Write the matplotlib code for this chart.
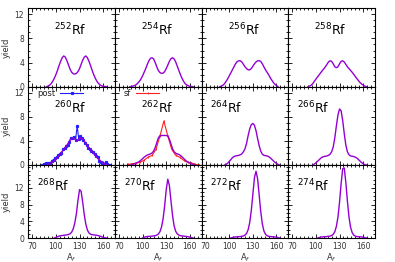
import numpy as np
import matplotlib
matplotlib.use("Agg")
import matplotlib.pyplot as plt
from matplotlib.ticker import MultipleLocator

# ---------------- data ----------------
nuclei = ["252", "254", "256", "258", "260", "262", "264", "266", "268", "270", "272", "274"]

A_252 = list(range(88, 165, 2))
y_252 = [0.0, 0.1, 0.25, 0.5, 0.9, 1.4, 2.0, 2.7, 3.5, 4.2, 4.8, 5.1, 4.9, 4.3, 3.6, 2.9, 2.4, 2.15,
         2.1, 2.2, 2.5, 3.0, 3.7, 4.4, 4.9, 5.1, 4.8, 4.2, 3.5, 2.7, 2.0, 1.4, 0.9, 0.55, 0.3, 0.15,
         0.07, 0.03, 0.0]

A_254 = list(range(84, 165, 2))
y_254 = [0.0, 0.05, 0.1, 0.2, 0.35, 0.6, 0.9, 1.3, 1.8, 2.4, 3.0, 3.7, 4.3, 4.7, 4.8, 4.6, 4.0, 3.3,
         2.7, 2.35, 2.2, 2.25, 2.5, 3.0, 3.6, 4.2, 4.65, 4.8, 4.6, 4.1, 3.4, 2.7, 2.0, 1.4, 0.9, 0.5,
         0.3, 0.15, 0.07, 0.03, 0.0]

A_256 = list(range(88, 163, 2))
y_256 = [0.0, 0.1, 0.25, 0.5, 0.9, 1.3, 1.8, 2.3, 2.8, 3.3, 3.8, 4.15, 4.3, 4.3, 4.1, 3.7, 3.3, 3.0,
         2.8, 2.8, 3.0, 3.4, 3.8, 4.1, 4.3, 4.3, 4.2, 3.8, 3.3, 2.8, 2.4, 2.0, 1.5, 1.1, 0.7, 0.4,
         0.2, 0.0]

A_258 = list(range(90, 165, 2))
y_258 = [0.0, 0.1, 0.25, 0.5, 0.9, 1.25, 1.6, 1.95, 2.3, 2.65, 2.95, 3.3, 3.7, 4.1, 4.3, 4.2, 3.8,
         3.3, 3.15, 3.3, 3.8, 4.2, 4.3, 4.1, 3.7, 3.3, 3.0, 2.7, 2.4, 2.05, 1.7, 1.35, 1.0, 0.7,
         0.45, 0.25, 0.1, 0.0]

A_260 = list(range(88, 167, 2))
y_260 = [0.0, 0.1, 0.2, 0.35, 0.5, 0.7, 0.95, 1.25, 1.55, 1.85, 2.2, 2.55, 2.9, 3.3, 3.7, 4.1, 4.4,
         4.5, 4.3, 4.0, 4.1, 4.4, 4.5, 4.3, 4.0, 3.6, 3.2, 2.85, 2.5, 2.2, 1.9, 1.6, 1.3, 1.0, 0.75,
         0.5, 0.3, 0.15, 0.05, 0.0]

A_262 = list(range(84, 167, 2))
y_262 = [0.0, 0.05, 0.1, 0.2, 0.3, 0.45, 0.6, 0.8, 1.05, 1.3, 1.5, 1.65, 1.75, 1.85, 2.0, 2.3, 2.9,
         3.7, 4.5, 4.85, 4.9, 4.9, 4.9, 4.9, 4.8, 4.3, 3.5, 2.7, 2.2, 1.95, 1.85, 1.75, 1.6, 1.35,
         1.1, 0.85, 0.6, 0.45, 0.3, 0.2, 0.1, 0.0]

A_264 = list(range(94, 165, 2))
y_264 = [0.0, 0.1, 0.3, 0.6, 0.9, 1.2, 1.4, 1.5, 1.55, 1.6, 1.7, 1.85, 2.2, 2.7, 3.6, 4.9, 6.0, 6.7,
         6.9, 6.6, 5.7, 4.4, 3.2, 2.3, 1.8, 1.6, 1.55, 1.5, 1.4, 1.2, 0.95, 0.7, 0.45, 0.25, 0.1, 0.0]

A_266 = list(range(96, 165, 2))
y_266 = [0.0, 0.15, 0.35, 0.6, 0.85, 1.1, 1.3, 1.4, 1.45, 1.5, 1.6, 1.8, 2.2, 3.0, 4.5, 6.5, 8.3,
         9.3, 9.0, 7.4, 5.2, 3.3, 2.2, 1.7, 1.5, 1.45, 1.4, 1.3, 1.15, 0.9, 0.65, 0.4, 0.2, 0.08, 0.0]

A_268 = list(range(98, 165, 2))
y_268 = [0.0, 0.15, 0.3, 0.45, 0.55, 0.6, 0.65, 0.7, 0.75, 0.85, 1.0, 1.4, 2.2, 3.6, 5.8, 9.0, 11.6,
         11.2, 8.6, 5.6, 3.3, 1.9, 1.2, 0.9, 0.8, 0.75, 0.7, 0.65, 0.55, 0.45, 0.3, 0.15, 0.05, 0.0]

A_270 = list(range(100, 165, 2))
y_270 = [0.0, 0.15, 0.3, 0.35, 0.4, 0.4, 0.45, 0.5, 0.55, 0.7, 0.95, 1.5, 2.6, 4.6, 7.7, 11.6, 14.1,
         12.6, 8.9, 5.4, 2.9, 1.6, 1.0, 0.7, 0.55, 0.5, 0.45, 0.4, 0.35, 0.3, 0.2, 0.1, 0.0]

A_272 = list(range(102, 165, 2))
y_272 = [0.0, 0.1, 0.2, 0.25, 0.3, 0.3, 0.35, 0.4, 0.5, 0.7, 1.1, 2.0, 3.7, 6.6, 10.5, 14.5, 16.0,
         14.2, 10.3, 6.3, 3.4, 1.7, 0.9, 0.55, 0.4, 0.35, 0.3, 0.3, 0.25, 0.2, 0.1, 0.0]

A_274 = list(range(102, 165, 2))
y_274 = [0.0, 0.1, 0.2, 0.25, 0.3, 0.3, 0.35, 0.4, 0.45, 0.6, 0.9, 1.5, 2.8, 5.0, 8.6, 13.0, 16.6,
         16.8, 13.3, 8.8, 5.0, 2.6, 1.3, 0.7, 0.45, 0.35, 0.3, 0.3, 0.25, 0.2, 0.1, 0.0]

# experimental: post-neutron yields of 260Rf
A_post = list(range(83, 168, 2))
y_post = [0.0, 0.2, 0.3, 0.1, 0.4, 0.3, 0.7, 0.9, 1.1, 1.3, 1.6, 1.9, 2.0, 2.6, 2.8, 3.1, 3.3, 3.9,
          4.5, 4.4, 4.7, 4.2, 6.5, 4.3, 4.8, 4.4, 4.1, 3.6, 3.4, 2.8, 2.6, 2.3, 2.1, 1.8, 1.5, 1.3,
          0.7, 0.5, 0.2, 0.1, 0.5, 0.1, 0.0]

# experimental: sf yields of 262Rf
A_sf = list(range(82, 173, 5))
y_sf = [0.1, 0.2, 0.35, 0.45, 0.8, 1.3, 1.6, 2.6, 4.8, 7.3, 4.8, 2.6, 1.6, 1.3, 0.8, 0.45, 0.35, 0.1, 0.0]

curves = {
    "252": (A_252, y_252), "254": (A_254, y_254), "256": (A_256, y_256), "258": (A_258, y_258),
    "260": (A_260, y_260), "262": (A_262, y_262), "264": (A_264, y_264), "266": (A_266, y_266),
    "268": (A_268, y_268), "270": (A_270, y_270), "272": (A_272, y_272), "274": (A_274, y_274),
}

x_ticks = [70, 100, 130, 160]
y_ticks = [0, 4, 8, 12]

# ---------------- layout ----------------
W, H = 395, 262
fig = plt.figure(figsize=(W / 100, H / 100), dpi=100)

col_edges = [28.3, 115.0, 201.7, 288.3, 375.0]
row_edges = [8.3, 86.7, 165.0, 238.0]
row_ylim = [13.0, 13.0, 17.5]

purple = "#9400d3"
tick_color = "#333333"

for i, nuc in enumerate(nuclei):
    r, c = divmod(i, 4)
    x0, x1 = col_edges[c], col_edges[c + 1]
    y0, y1 = row_edges[r], row_edges[r + 1]
    ax = fig.add_axes([x0 / W, 1 - y1 / H, (x1 - x0) / W, (y1 - y0) / H])

    if nuc == "260":
        ax.plot(A_post, y_post, color="#2020ff", lw=0.8, marker="s", ms=1.3, label="post", zorder=2)
    if nuc == "262":
        ax.plot(A_sf, y_sf, color="#ff2020", lw=0.8, marker="|", ms=2.0, mew=0.7, label="sf", zorder=2)

    A, y = curves[nuc]
    ax.plot(A, y, color=purple, lw=1.0, zorder=3)

    ax.set_xlim(65, 175)
    ax.set_ylim(0, row_ylim[r])
    ax.set_xticks(x_ticks)
    ax.set_yticks(y_ticks)
    ax.xaxis.set_minor_locator(MultipleLocator(5))
    ax.yaxis.set_minor_locator(MultipleLocator(1))
    ax.tick_params(which="both", direction="in", top=True, right=True, width=0.6,
                   labelsize=5.5, labelcolor=tick_color, pad=3)
    ax.tick_params(which="major", length=3)
    ax.tick_params(which="minor", length=1.5)
    for s in ax.spines.values():
        s.set_linewidth(0.8)

    if c != 0:
        ax.tick_params(labelleft=False)
    else:
        ax.set_ylabel("yield", fontsize=6, color=tick_color, labelpad=3)
    if r != 2:
        ax.tick_params(labelbottom=False)
    else:
        ax.set_xlabel("A$_f$", fontsize=6, color=tick_color, labelpad=0)

    tx = 0.3 if i < 6 else 0.1
    ty = 0.655 if r < 2 else 0.64
    ax.text(tx, ty, r"$^{%s}$Rf" % nuc, transform=ax.transAxes, fontsize=9,
            ha="left", va="baseline")

    if nuc in ("260", "262"):
        ax.legend(loc="upper left", bbox_to_anchor=(0.04, 1.04), frameon=False, fontsize=6,
                  markerfirst=False, handlelength=2.8, handletextpad=0.6, borderaxespad=0.2,
                  labelcolor="#222222")

fig.savefig("out.png", dpi=100)
